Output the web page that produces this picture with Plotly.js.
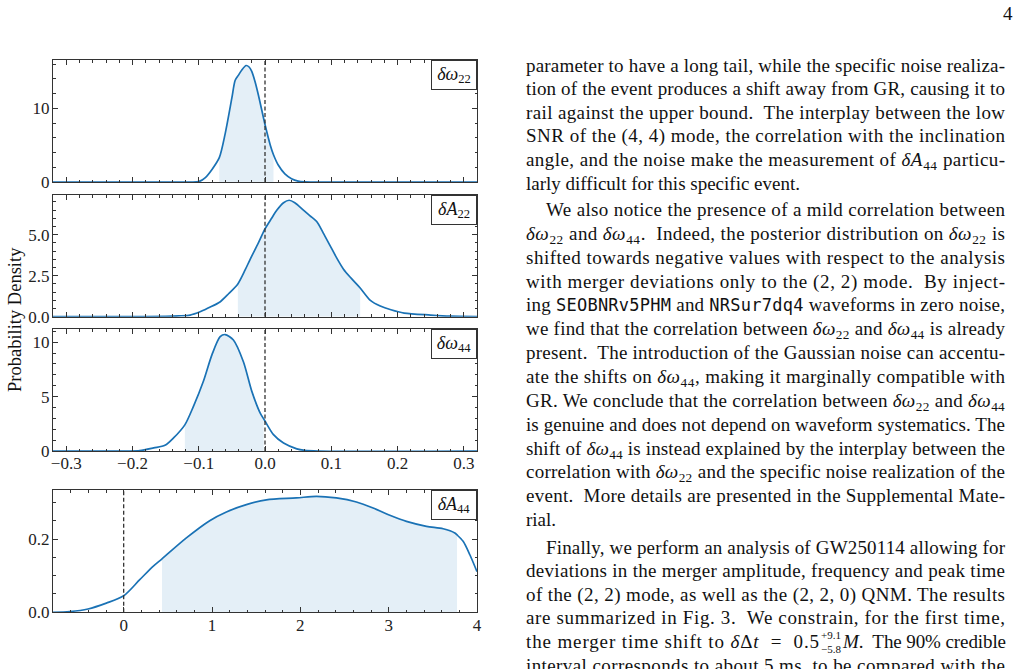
<!DOCTYPE html>
<html><head><meta charset="utf-8">
<script src="https://cdn.plot.ly/plotly-3.0.1.min.js"></script>
<style>html,body{margin:0;padding:0;background:#fff;overflow:hidden}#gd{width:1022px;height:669px}</style>
</head><body><div id="gd"></div>
<script>
// ---------------- data ----------------
const dw22X = [-0.32, -0.12, -0.10, -0.09, -0.08, -0.069, -0.06, -0.05, -0.045, -0.04, -0.035, -0.0285, -0.024, -0.02, -0.015, -0.01, -0.005, 0, 0.008, 0.0128, 0.02, 0.03, 0.04, 0.05, 0.06, 0.08, 0.32];
const dw22Y = [0, 0, 0.05, 0.6, 1.7, 3.3, 6.6, 11.4, 13.8, 14.5, 15.2, 15.8, 15.6, 15.0, 13.6, 11.8, 9.8, 7.8, 5.0, 3.7, 2.3, 1.1, 0.45, 0.12, 0.02, 0, 0];
const dw22CI = [-0.069, 0.0128];

const dA22X = [-0.32, -0.2, -0.15, -0.13, -0.113, -0.098, -0.085, -0.068, -0.055, -0.041, -0.03, -0.0224, -0.01, 0, 0.01, 0.018, 0.028, 0.0365, 0.045, 0.058, 0.068, 0.078, 0.088, 0.098, 0.108, 0.1185, 0.13, 0.1437, 0.159, 0.174, 0.19, 0.21, 0.25, 0.28, 0.32];
const dA22Y = [0, 0, 0.02, 0.05, 0.1, 0.3, 0.55, 0.9, 1.4, 2.0, 2.85, 3.5, 4.5, 5.35, 6.0, 6.5, 6.95, 7.1, 6.95, 6.5, 6.15, 5.8, 5.1, 4.35, 3.6, 2.9, 2.35, 1.75, 1.0, 0.65, 0.42, 0.22, 0.1, 0.03, 0];
const dA22CI = [-0.041, 0.1437];

const dw44X = [-0.32, -0.21, -0.189, -0.168, -0.151, -0.138, -0.121, -0.108, -0.093, -0.08, -0.0677, -0.0602, -0.0477, -0.0326, -0.02, -0.0074, -0.002, 0, 0.0128, 0.028, 0.048, 0.06, 0.08, 0.32];
const dw44Y = [0, 0, 0.03, 0.28, 0.52, 1.2, 2.4, 4.1, 6.4, 8.85, 10.5, 10.7, 10.2, 8.2, 5.5, 3.5, 2.95, 2.75, 1.5, 0.73, 0.2, 0.06, 0, 0];
const dw44CI = [-0.121, -0.002];

const dA44X = [-0.8, -0.61, -0.404, -0.196, 0.0, 0.182, 0.333, 0.434, 0.71, 0.974, 1.163, 1.389, 1.616, 1.955, 2.182, 2.408, 2.635, 2.824, 3.013, 3.201, 3.428, 3.617, 3.749, 3.774, 3.843, 3.919, 4.0];
const dA44Y = [0, 0.002, 0.009, 0.025, 0.045, 0.089, 0.1255, 0.146, 0.203, 0.25, 0.2737, 0.2937, 0.307, 0.312, 0.3165, 0.312, 0.301, 0.2846, 0.2647, 0.248, 0.2346, 0.228, 0.2164, 0.211, 0.1937, 0.157, 0.111];
const dA44CI = [0.434, 3.774];

const grValue = 0;
const panelLabels = ['<i>δω</i><sub>22</sub>', '<i>δA</i><sub>22</sub>', '<i>δω</i><sub>44</sub>', '<i>δA</i><sub>44</sub>'];
const yAxisTitle = 'Probability Density';
const pageNumber = '4';

const tt = s => '<span style="font-family:DejaVu Sans Mono;font-size:17px">' + s + '</span>';
const para1 = [
  'parameter to have a long tail, while the specific noise realiza-',
  'tion of the event produces a shift away from GR, causing it to',
  'rail against the upper bound.  The interplay between the low',
  'SNR of the (4, 4) mode, the correlation with the inclination',
  'angle, and the noise make the measurement of <i>δA</i><sub>44</sub> particu-',
  'larly difficult for this specific event.'
];
const para2 = [
  'We also notice the presence of a mild correlation between',
  '<i>δω</i><sub>22</sub> and <i>δω</i><sub>44</sub>.  Indeed, the posterior distribution on <i>δω</i><sub>22</sub> is',
  'shifted towards negative values with respect to the analysis',
  'with merger deviations only to the (2, 2) mode.  By inject-',
  'ing ' + tt('SEOBNRv5PHM') + ' and ' + tt('NRSur7dq4') + ' waveforms in zero noise,',
  'we find that the correlation between <i>δω</i><sub>22</sub> and <i>δω</i><sub>44</sub> is already',
  'present.  The introduction of the Gaussian noise can accentu-',
  'ate the shifts on <i>δω</i><sub>44</sub>, making it marginally compatible with',
  'GR. We conclude that the correlation between <i>δω</i><sub>22</sub> and <i>δω</i><sub>44</sub>',
  'is genuine and does not depend on waveform systematics. The',
  'shift of <i>δω</i><sub>44</sub> is instead explained by the interplay between the',
  'correlation with <i>δω</i><sub>22</sub> and the specific noise realization of the',
  'event.  More details are presented in the Supplemental Mate-',
  'rial.'
];
const para3 = [
  'Finally, we perform an analysis of GW250114 allowing for',
  'deviations in the merger amplitude, frequency and peak time',
  'of the (2, 2) mode, as well as the (2, 2, 0) QNM. The results',
  'are summarized in Fig. 3.  We constrain, for the first time,',
  ['the merger time shift to <i>δ</i>Δ<i>t</i>  =  0.5', '+9.1<br>−5.8', '<i>M</i>.  The 90% credible'],
  'interval corresponds to about 5 ms, to be compared with the'
];

// ---------------- layout helpers ----------------
const W = 1022, H = 669;
const fx = v => v / W, fy = v => 1 - v / H;
const LINE = '#333333', BLUE = '#1a72b5', FILL = '#e4eff7';
const SERIF = 'Liberation Serif';
const xdom = [fx(53), fx(477)];

function ciSubset(xs, ys, ci) {
  const a = [], b = [];
  xs.forEach((x, i) => { if (x >= ci[0] - 1e-9 && x <= ci[1] + 1e-9) { a.push(x); b.push(ys[i]); } });
  return [a, b];
}

const panels = [
  {x: dw22X, y: dw22Y, ci: dw22CI},
  {x: dA22X, y: dA22Y, ci: dA22CI},
  {x: dw44X, y: dw44Y, ci: dw44CI},
  {x: dA44X, y: dA44Y, ci: dA44CI}
];

const data = [];
panels.forEach((p, i) => {
  const xa = i === 0 ? 'x' : 'x' + (i + 1), ya = i === 0 ? 'y' : 'y' + (i + 1);
  const s = ciSubset(p.x, p.y, p.ci);
  data.push({x: s[0], y: s[1], xaxis: xa, yaxis: ya, type: 'scatter', mode: 'lines',
    fill: 'tozeroy', fillcolor: FILL, line: {width: 0, shape: 'spline', smoothing: 0.8}, hoverinfo: 'skip', showlegend: false});
  data.push({x: p.x, y: p.y, xaxis: xa, yaxis: ya, type: 'scatter', mode: 'lines',
    line: {color: BLUE, width: 1.7, shape: 'spline', smoothing: 0.8}, showlegend: false});
});

function axisBase(extra) {
  return Object.assign({
    showline: true, mirror: 'allticks', linecolor: LINE, linewidth: 1,
    ticks: 'inside', ticklen: 5, tickwidth: 1, tickcolor: LINE,
    showgrid: false, zeroline: false, fixedrange: true,
    tickfont: {family: SERIF, size: 17, color: '#222'}
  }, extra);
}

const layout = {
  width: W, height: H, margin: {l: 0, r: 0, t: 0, b: 0},
  paper_bgcolor: '#fff', plot_bgcolor: '#fff', showlegend: false,
  xaxis:  axisBase({anchor: 'y',  domain: xdom, range: [-0.32, 0.32], tick0: 0, dtick: 0.1, showticklabels: false,
    minor: {ticks: 'inside', ticklen: 2.5, tickcolor: LINE, dtick: 0.02}}),
  xaxis2: axisBase({anchor: 'y2', domain: xdom, range: [-0.32, 0.32], tick0: 0, dtick: 0.1, showticklabels: false,
    minor: {ticks: 'inside', ticklen: 2.5, tickcolor: LINE, dtick: 0.02}}),
  xaxis3: axisBase({anchor: 'y3', domain: xdom, range: [-0.32, 0.32], tick0: 0, dtick: 0.1, tickformat: '.1f',
    ticklabelstandoff: -3, minor: {ticks: 'inside', ticklen: 2.5, tickcolor: LINE, dtick: 0.02}}),
  xaxis4: axisBase({anchor: 'y4', domain: xdom, range: [-0.8, 4], tick0: 0, dtick: 1, tickformat: 'd',
    ticklabelstandoff: -3, minor: {ticks: 'inside', ticklen: 2.5, tickcolor: LINE, dtick: 0.2}}),
  yaxis:  axisBase({anchor: 'x',  domain: [fy(182), fy(60)], range: [0, 16.55], tick0: 0, dtick: 10,
    ticklabelstandoff: -1, minor: {ticks: 'inside', ticklen: 2.5, tickcolor: LINE, dtick: 2}}),
  yaxis2: axisBase({anchor: 'x2', domain: [fy(316.7), fy(195)], range: [0, 7.42], tick0: 0, dtick: 2.5, tickformat: '.1f',
    ticklabelstandoff: -1, minor: {ticks: 'inside', ticklen: 2.5, tickcolor: LINE, dtick: 0.5}}),
  yaxis3: axisBase({anchor: 'x3', domain: [fy(451), fy(329.3)], range: [0, 11.18], tick0: 0, dtick: 5,
    ticklabelstandoff: -1, minor: {ticks: 'inside', ticklen: 2.5, tickcolor: LINE, dtick: 1}}),
  yaxis4: axisBase({anchor: 'x4', domain: [fy(612.3), fy(490)], range: [0, 0.3337], tick0: 0, dtick: 0.2, tickformat: '.1f',
    ticklabelstandoff: -1, minor: {ticks: 'inside', ticklen: 2.5, tickcolor: LINE, dtick: 0.05}}),
  shapes: [], annotations: []
};

// GR reference dashed lines and panel labels
for (let i = 0; i < 4; i++) {
  const xa = i === 0 ? 'x' : 'x' + (i + 1), ya = i === 0 ? 'y' : 'y' + (i + 1);
  layout.shapes.push({type: 'line', xref: xa, yref: ya + ' domain', x0: grValue, x1: grValue, y0: 0, y1: 1,
    layer: 'above', line: {color: LINE, width: 1.3, dash: '4px,2.5px'}});
  layout.annotations.push({xref: xa + ' domain', yref: ya + ' domain', x: 1, y: 1, xanchor: 'right', yanchor: 'top',
    text: panelLabels[i], showarrow: false, font: {family: SERIF, size: 18, color: '#111'},
    bordercolor: LINE, borderwidth: 1, borderpad: 0, bgcolor: '#fff', width: 44, height: 28});
}

// axis title and page number
layout.annotations.push({xref: 'paper', yref: 'paper', x: fx(15), y: fy(320), xanchor: 'center', yanchor: 'middle',
  text: yAxisTitle, textangle: -90, showarrow: false, font: {family: SERIF, size: 18.5, color: '#111'}});
layout.annotations.push({xref: 'paper', yref: 'paper', x: fx(1008), y: fy(14), xanchor: 'center', yanchor: 'middle',
  text: pageNumber, showarrow: false, font: {family: SERIF, size: 19, color: '#111'}});

// body text
const TL = 525, TR = 1005, IND = 20, FS = 19;
const justify = [];
function addLine(text, left, yc, just, right) {
  const idx = layout.annotations.length;
  layout.annotations.push({xref: 'paper', yref: 'paper', x: fx(left), y: fy(yc - 13), xanchor: 'left', yanchor: 'top',
    align: 'left', text: text, showarrow: false, borderpad: 0, font: {family: SERIF, size: FS, color: '#111'}});
  if (just) justify.push({idx: idx, right: right || TR});
}
function addPara(lines, y0, step, indent, lastJust) {
  lines.forEach((t, k) => {
    const yc = y0 + k * step;
    const left = (k === 0 && indent) ? TL + IND : TL;
    if (Array.isArray(t)) {
      addLine(t[0], left, yc, true, 819);
      layout.annotations.push({xref: 'paper', yref: 'paper', x: fx(820), y: fy(yc - 1), xanchor: 'left', yanchor: 'middle',
        align: 'left', text: t[1], showarrow: false, borderpad: 0, font: {family: SERIF, size: 11, color: '#111'}});
      addLine(t[2], 841, yc, true, TR);
    } else {
      addLine(t, left, yc, k < lines.length - 1 || lastJust);
    }
  });
}
addPara(para1, 66.5, 23.65, false, false);
addPara(para2, 211, 23.85, true, false);
addPara(para3, 548.5, 23.6, true, true);

const gd = document.getElementById('gd');
Plotly.newPlot(gd, data, layout, {staticPlot: true, displayModeBar: false}).then(() => {
  justify.forEach(j => {
    const g = gd.querySelector('.annotation[data-index="' + j.idx + '"]');
    if (!g) return;
    const t = g.querySelector('text.annotation-text');
    if (!t) return;
    const r0 = t.getBoundingClientRect();
    const target = j.right - r0.left;
    if (target <= 0) return;
    t.setAttribute('textLength', target);
    t.setAttribute('lengthAdjust', 'spacing');
    const r1 = t.getBoundingClientRect();
    const dx = r0.left - r1.left;
    if (Math.abs(dx) > 0.3) t.setAttribute('transform', 'translate(' + dx + ',0)');
  });
});
</script>
</body></html>
